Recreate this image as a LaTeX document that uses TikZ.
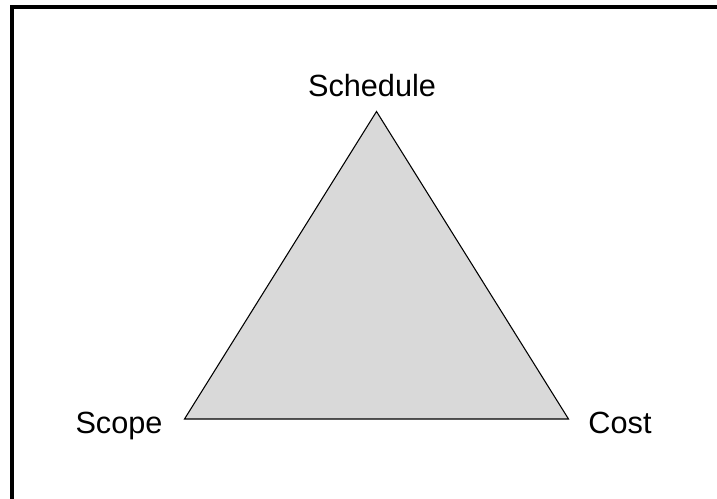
\documentclass[tikz,border=0pt]{standalone}
\usepackage{fontspec}
\setmainfont{Liberation Sans}
\definecolor{trifill}{RGB}{217,217,217}
\begin{document}
\begin{tikzpicture}[x=0.75pt,y=-0.75pt,
  lbl/.style={anchor=base,inner sep=0pt,font=\fontsize{23}{27}\selectfont},
  frameline/.style={line width=3pt,black},
  tri/.style={draw=black,fill=trifill,line width=0.8pt,line join=miter}]
\useasboundingbox (0,0) rectangle (717,499);
\begin{scope}
\clip (0,0) rectangle (717,499);
\draw[frameline] (12,520) -- (12,7) -- (740,7);
\end{scope}
\coordinate (top) at (376.5,111.5);
\coordinate (left) at (184.5,419);
\coordinate (right) at (568.5,419);
\draw[tri] (top) -- (right) -- (left) -- cycle;
\node[lbl] (schedule) at (372,97) {Schedule};
\node[lbl] (scope) at (119,433) {Scope};
\node[lbl] (cost) at (620,433) {Cost};
\end{tikzpicture}
\end{document}
